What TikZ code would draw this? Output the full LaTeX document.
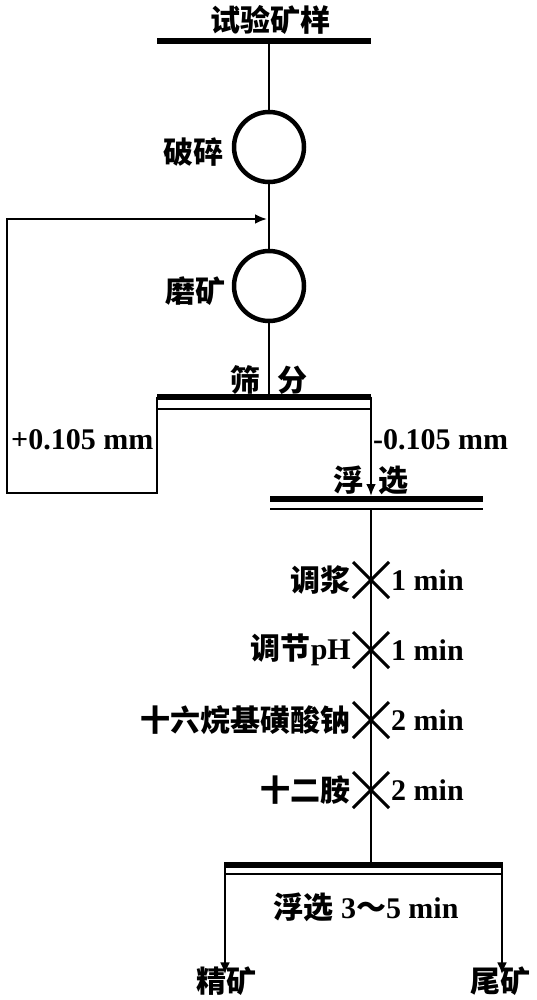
\documentclass[tikz,border=0pt]{standalone}
\usepackage{fontspec}
\setmainfont{Liberation Serif}
\newfontfamily\cjk{Noto Sans CJK SC}
\usetikzlibrary{arrows.meta}
\begin{document}
\begin{tikzpicture}[x=1pt,y=-1pt,
  txt/.style={font=\fontsize{30}{31}\selectfont\bfseries, inner sep=0pt},
  unit/.style={circle, draw, line width=4.5pt, minimum size=70pt, inner sep=0pt},
  flow/.style={line width=2.6pt},
  arr/.style={flow, -{Latex[length=12pt,width=10pt]}},
  heavybar/.style={line width=6pt},
  lightbar/.style={line width=2.6pt},
  xmark/.style={line width=3pt}]
\useasboundingbox (0,0) rectangle (536,1000);

% title and top bar
\node[txt] (title) at (270,20) {\cjk 试验矿样};
\coordinate (barL) at (157,41);
\coordinate (barR) at (371,41);
\coordinate (barM) at (269,41);
\draw[heavybar] (barL) -- (barR);

% crushing and grinding
\node[unit] (crush) at (269,147) {};
\node[txt, anchor=east] (crushL) at (224,152) {\cjk 破碎};
\node[unit] (grind) at (269,286) {};
\node[txt, anchor=east] (grindL) at (226,291) {\cjk 磨矿};
\draw[flow] (barM) -- (crush.north);
\draw[flow] (crush.south) -- (grind.north);

% screening
\coordinate (sL) at (157,396.5);
\coordinate (sR) at (371,396.5);
\coordinate (sM) at (269,396.5);
\coordinate (sLb) at (157,409);
\coordinate (sRb) at (371,409);
\draw[heavybar] (sL) -- (sR);
\draw[lightbar] (sLb) -- (sRb);
\draw[lightbar] (sL) -- (sLb);
\draw[lightbar] (sR) -- (sRb);
\draw[flow] (grind.south) -- (sM);
\node[txt] (sa) at (245,380) {\cjk 筛};
\node[txt] (sb) at (292,380) {\cjk 分};

% recycle of oversize
\coordinate (r1) at (157,493);
\coordinate (r2) at (7,493);
\coordinate (r3) at (7,219);
\coordinate (r4) at (267,219);
\draw[arr] (sLb) -- (r1) -- (r2) -- (r3) -- (r4);
\node[txt, anchor=west] (plus) at (11,440) {+0.105 mm};

% undersize to flotation
\coordinate (fL) at (270,499);
\coordinate (fR) at (483,499);
\coordinate (fM) at (371,496);
\coordinate (fLb) at (270,509);
\coordinate (fRb) at (483,509);
\coordinate (fMb) at (371,509);
\draw[heavybar] (fL) -- (fR);
\draw[lightbar] (fLb) -- (fRb);
\draw[arr] (sRb) -- (fM);
\node[txt, anchor=west] (minus) at (373,440) {-0.105 mm};
\node[txt] (fa) at (348,480) {\cjk 浮};
\node[txt] (fb) at (393,480) {\cjk 选};

% reagent additions
\coordinate (x1) at (371,580);
\coordinate (x2) at (371,650);
\coordinate (x3) at (371,720);
\coordinate (x4) at (371,790);
\coordinate (bM) at (371,864.5);
\draw[flow] (fMb) -- (bM);
\foreach \p in {x1,x2,x3,x4}{
  \draw[xmark] ([shift={(-18,-18)}]\p) -- ([shift={(18,18)}]\p);
  \draw[xmark] ([shift={(-18,18)}]\p) -- ([shift={(18,-18)}]\p);
}
\node[txt, anchor=east] (l1) at ([xshift=-20]x1) {\cjk 调浆};
\node[txt, anchor=west] (t1) at ([xshift=20]x1) {1 min};
\node[txt, anchor=east] (l2) at ([xshift=-20]x2) {{\cjk 调节}pH};
\node[txt, anchor=west] (t2) at ([xshift=20]x2) {1 min};
\node[txt, anchor=east] (l3) at ([xshift=-20]x3) {\cjk 十六烷基磺酸钠};
\node[txt, anchor=west] (t3) at ([xshift=20]x3) {2 min};
\node[txt, anchor=east] (l4) at ([xshift=-20]x4) {\cjk 十二胺};
\node[txt, anchor=west] (t4) at ([xshift=20]x4) {2 min};

% final flotation
\coordinate (bL) at (224,864.5);
\coordinate (bR) at (503,864.5);
\coordinate (bLb) at (224,874);
\coordinate (bRb) at (503,874);
\draw[heavybar] (bL) -- (bR);
\draw[lightbar] (bLb) -- (bRb);
\node[txt] (fin) at (366,907) {{\cjk 浮选} 3{\cjk ～}5 min};
\node[txt] (conc) at (226,981) {\cjk 精矿};
\node[txt] (tail) at (500,981) {\cjk 尾矿};
\draw[arr] ([xshift=1]bL) -- ([xshift=1,yshift=-8]bL |- conc.north);
\draw[arr] ([xshift=-1]bR) -- ([xshift=-1,yshift=-8]bR |- tail.north);
\end{tikzpicture}
\end{document}
